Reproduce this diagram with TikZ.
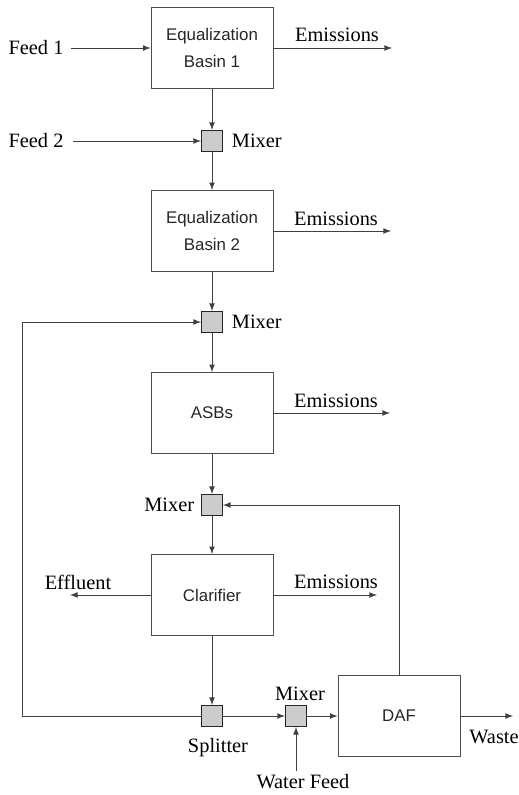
\documentclass[tikz,border=0pt]{standalone}
\usepackage{fontspec}
\setmainfont{Liberation Serif}
\newfontfamily\unitfont{Liberation Sans}
\usepackage{tikz}
\usetikzlibrary{arrows, positioning, calc}

\begin{document}
\begin{tikzpicture}[
    x=0.02cm, y=-0.02cm,
    unit/.style={draw=black!70, line width=0.5pt, minimum width=2.44cm, minimum height=1.62cm,
                 align=center, font=\unitfont\fontsize{9.6}{15}\selectfont, text=black!85},
    mixer/.style={draw=black!85, line width=0.6pt, fill=gray!40, minimum size=0.42cm, inner sep=0pt},
    lbl/.style={font=\fontsize{11.6}{13}\selectfont, inner sep=2pt},
    flow/.style={->, >=latex, line width=0.5pt, draw=black!75}
]
\useasboundingbox (0,0) rectangle (519,795);

% Equalization basin 1
\node[unit] (eb1) at (212,48) {Equalization\\Basin 1};
\node[lbl] (feed1) at (36,48) {Feed 1};
\coordinate (em1) at (392,48);
\node[lbl] (em1lbl) at (337,35) {Emissions};
\draw[flow] (feed1.east) ++(4,0) -- (eb1);
\draw[flow] (eb1) -- (em1);

% Mixer 1
\node[mixer] (mix1) at (212,141) {};
\node[lbl, right=0.1cm of mix1] (mix1lbl) {Mixer};
\node[lbl] (feed2) at (36,141) {Feed 2};
\draw[flow] (eb1) -- (mix1);
\draw[flow] (feed2.east) ++(6,0) -- (mix1);

% Equalization basin 2
\node[unit] (eb2) at (212,231) {Equalization\\Basin 2};
\coordinate (em2) at (391,231);
\node[lbl] (em2lbl) at (336,219) {Emissions};
\draw[flow] (mix1) -- (eb2);
\draw[flow] (eb2) -- (em2);

% Mixer 2
\node[mixer] (mix2) at (212,322) {};
\node[lbl, right=0.1cm of mix2] (mix2lbl) {Mixer};
\draw[flow] (eb2) -- (mix2);

% ASBs
\node[unit] (asb) at (212,413) {ASBs};
\coordinate (em3) at (390,413);
\node[lbl] (em3lbl) at (336,401) {Emissions};
\draw[flow] (mix2) -- (asb);
\draw[flow] (asb) -- (em3);

% Mixer 3
\node[mixer] (mix3) at (212,505) {};
\node[lbl, left=0.06cm of mix3] (mix3lbl) {Mixer};
\draw[flow] (asb) -- (mix3);

% Clarifier
\node[unit] (clar) at (212,595) {Clarifier};
\coordinate (eff) at (70,595);
\node[lbl] (efflbl) at (78,582) {Effluent};
\coordinate (em4) at (377,595);
\node[lbl] (em4lbl) at (336,582) {Emissions};
\draw[flow] (mix3) -- (clar);
\draw[flow] (clar) -- (eff);
\draw[flow] (clar) -- (em4);

% Splitter and mixer 4
\node[mixer] (split) at (212,716) {};
\node[lbl] (splitlbl) at (218,748) {Splitter};
\node[mixer] (mix4) at (296,716) {};
\node[lbl] (mix4lbl) at (300,694) {Mixer};
\node[lbl] (water) at (303,782) {Water Feed};
\draw[flow] (clar) -- (split);
\draw[flow] (split) -- (mix4);
\draw[flow] (water.north -| mix4) -- (mix4);

% Recycle to mixer 2
\coordinate (rcl) at (22,716);
\draw[flow] (split) -- (rcl) |- (mix2);

% DAF
\node[unit] (daf) at (399,716) {DAF};
\coordinate (waste) at (513,716);
\node[lbl] (wastelbl) at (494,737) {Waste};
\draw[flow] (mix4) -- (daf);
\draw[flow] (daf) -- (waste);
\draw[flow] (daf) |- (mix3);

\end{tikzpicture}
\end{document}
